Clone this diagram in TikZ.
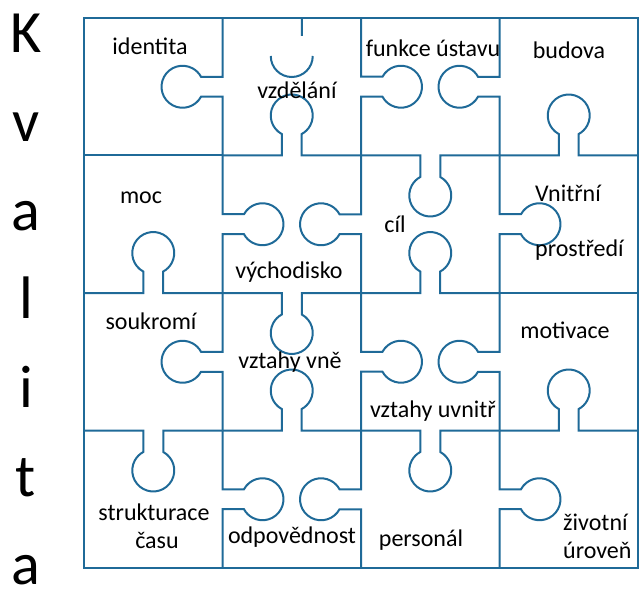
\documentclass[tikz,border=0pt]{standalone}
\usepackage{fontspec}
\setmainfont{Carlito}
\definecolor{pieceblue}{RGB}{31,106,152}

\begin{document}
\begin{tikzpicture}[x=1pt,y=-1pt,
		piece/.style={draw=pieceblue,line width=2pt},
		word/.style={inner sep=0pt,anchor=base,font=\fontsize{24}{28}\selectfont},
		letter/.style={inner sep=0pt,anchor=base,font=\fontsize{60}{60}\selectfont}]
		\useasboundingbox (0,0) rectangle (640,596);
		% frame and plain edges
		\draw[piece] (84,18) rectangle (638,568);
		\draw[piece] (84,155.5) -- (222.5,155.5) (499.5,293) -- (638,293);
		% edges between columns: x / middle y / direction of the knob
		\foreach \ex/\ey/\dir in {222.5/86.75/180, 361/86.75/0, 499.5/86.75/180,
			222.5/224.25/0, 361/224.25/180, 499.5/224.25/0,
			222.5/361.75/180, 361/361.75/0, 499.5/361.75/180,
			222.5/499.25/0, 361/499.25/180, 499.5/499.25/0}
		\draw[piece] (\ex,\ey) ++(\dir-90:68.75) -- ++(\dir+90:58.75) -- ++(\dir:21.5)
			arc[start angle=\dir+208.4, end angle=\dir+511.6, radius=21]
			-- ++(\dir+180:21.5) -- ++(\dir+90:58.75);
		% edges between rows
		\foreach \ex/\ey/\dir in {291.75/155.5/270, 430.25/155.5/90, 568.75/155.5/270,
			153.25/293/270, 291.75/293/90, 430.25/293/270,
			153.25/430.5/90, 291.75/430.5/270, 430.25/430.5/90, 568.75/430.5/270}
		\draw[piece] (\ex,\ey) ++(\dir-90:69.25) -- ++(\dir+90:59.25) -- ++(\dir:21.5)
			arc[start angle=\dir+208.4, end angle=\dir+511.6, radius=21]
			-- ++(\dir+180:21.5) -- ++(\dir+90:59.25);
		% cut knob on top
		\draw[piece] (301.75,18) -- (301.75,36) (312.75,56) arc[start angle=0, end angle=180, radius=21];

		\node[word] (identita) at (150,55) {identita};
		\node[word] (vzdelani) at (297,99) {vzdělání};
		\node[word] (funkce) at (433,57) {funkce ústavu};
		\node[word] (budova) at (569,59) {budova};
		\node[word] (moc) at (141,204) {moc};
		\node[word] (vychodisko) at (289,278) {východisko};
		\node[word] (cil) at (395,233) {cíl};
		\node[word,anchor=base west] (vnitrni) at (535,202) {Vnitřní};
		\node[word,anchor=base west] (prostredi) at (535,257) {prostředí};
		\node[word] (soukromi) at (151,329) {soukromí};
		\node[word] (vne) at (290,368) {vztahy vně};
		\node[word] (uvnitr) at (433,417) {vztahy uvnitř};
		\node[word] (motivace) at (565,338) {motivace};
		\node[word] (strukturace) at (154,520) {strukturace};
		\node[word] (casu) at (157,548) {času};
		\node[word] (odpovednost) at (292,543) {odpovědnost};
		\node[word] (personal) at (421,546) {personál};
		\node[word,anchor=base west] (zivotni) at (563,530) {životní};
		\node[word,anchor=base west] (uroven) at (563,558) {úroveň};

		\foreach \ch [count=\i from 0] in {K,v,a,l,i,t,a}
		\node[letter] (kv\i) at (26,53+88.6*\i) {\ch};
\end{tikzpicture}
\end{document}
